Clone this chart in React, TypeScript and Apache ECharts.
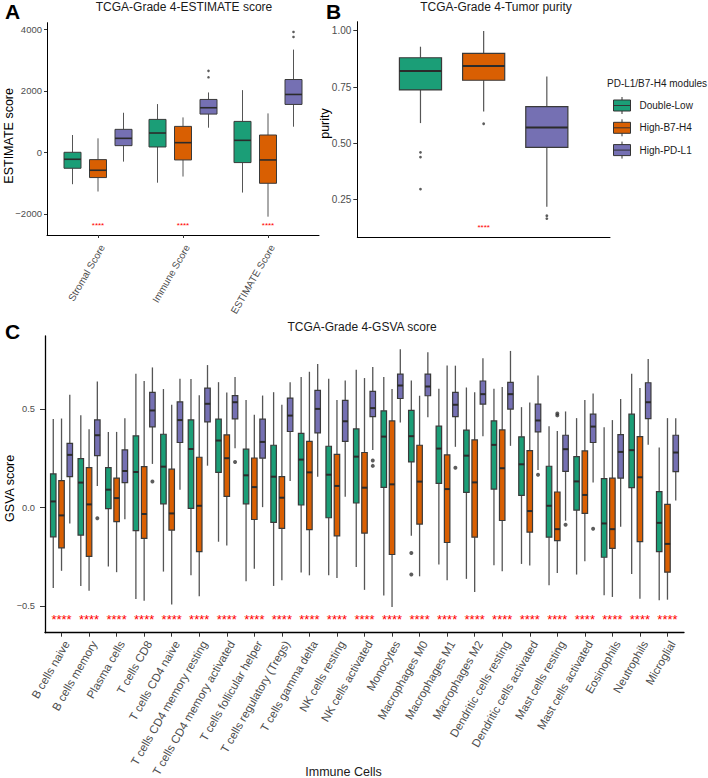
import React, { useEffect, useRef } from "react";
import * as echarts from "echarts";

const FONT = "'Liberation Sans', Arial, Helvetica, sans-serif";

// ---------- groups ----------
const groupNames = ["Double-Low", "High-B7-H4", "High-PD-L1"];
const groupColors = ["#1B9E77", "#D95F02", "#7570B3"];
const dodgeOffsets = [-0.3, 0, 0.3];

// ---------- Panel A: ESTIMATE ----------
const estimateCategories = ["Stromal Score", "Immune Score", "ESTIMATE Score"];
const estimateTicks = [-2000, 0, 2000, 4000];
// each box: [lower whisker, Q1, median, Q3, upper whisker]
const estimateDoubleLow = [
  [-1038, -519, -227, 0, 562],
  [-989, 173, 627, 1070, 1568],
  [-1310, -335, 389, 1005, 2022],
];
const estimateHighB7H4 = [
  [-1276, -822, -584, -238, 454],
  [-789, -249, 313, 843, 1135],
  [-2094, -1008, -249, 562, 1265],
];
const estimateHighPDL1 = [
  [-303, 216, 454, 746, 1286],
  [800, 1243, 1449, 1719, 1946],
  [832, 1557, 1881, 2367, 3340],
];
// [category index, group index, value]
const estimateOutliers = [
  [1, 2, 2650],
  [1, 2, 2440],
  [2, 2, 3913],
  [2, 2, 3751],
];
const estimateStarLevel = -2340;

// ---------- Panel B: Tumor purity ----------
const purityTicks = [0.25, 0.5, 0.75, 1.0];
const purityDoubleLow = [[0.59, 0.737, 0.821, 0.88, 0.929]];
const purityHighB7H4 = [[0.641, 0.78, 0.843, 0.899, 0.999]];
const purityHighPDL1 = [[0.219, 0.482, 0.57, 0.663, 0.797]];
const purityOutliers = [
  [0, 0, 0.46],
  [0, 0, 0.439],
  [0, 0, 0.297],
  [0, 1, 0.587],
  [0, 2, 0.179],
  [0, 2, 0.166],
];
const purityStarLevel = 0.133;

// ---------- Panel C: GSVA ----------
const immuneCells = [
  "B cells naive",
  "B cells memory",
  "Plasma cells",
  "T cells CD8",
  "T cells CD4 naive",
  "T cells CD4 memory resting",
  "T cells CD4 memory activated",
  "T cells follicular helper",
  "T cells regulatory (Tregs)",
  "T cells gamma delta",
  "NK cells resting",
  "NK cells activated",
  "Monocytes",
  "Macrophages M0",
  "Macrophages M1",
  "Macrophages M2",
  "Dendritic cells resting",
  "Dendritic cells activated",
  "Mast cells resting",
  "Mast cells activated",
  "Eosinophils",
  "Neutrophils",
  "Microglial",
];
const gsvaTicks = [-0.5, 0, 0.5];
const gsvaDoubleLow = [
  [-0.408, -0.148, 0.032, 0.172, 0.451],
  [-0.398, -0.139, 0.128, 0.25, 0.471],
  [-0.299, -0.005, 0.092, 0.204, 0.386],
  [-0.464, -0.117, 0.182, 0.366, 0.682],
  [-0.325, 0.02, 0.209, 0.374, 0.604],
  [-0.344, -0.003, 0.299, 0.447, 0.655],
  [-0.173, 0.18, 0.342, 0.451, 0.639],
  [-0.374, 0.02, 0.165, 0.298, 0.548],
  [-0.398, -0.075, 0.158, 0.318, 0.588],
  [-0.33, 0.014, 0.245, 0.378, 0.665],
  [-0.344, -0.051, 0.168, 0.313, 0.656],
  [-0.301, 0.024, 0.26, 0.401, 0.702],
  [-0.447, 0.104, 0.362, 0.493, 0.665],
  [-0.143, 0.233, 0.364, 0.495, 0.647],
  [-0.289, 0.124, 0.301, 0.415, 0.605],
  [-0.362, 0.078, 0.265, 0.395, 0.612],
  [-0.293, 0.095, 0.32, 0.442, 0.605],
  [-0.286, 0.063, 0.221, 0.361, 0.512],
  [-0.395, -0.15, 0.01, 0.211, 0.415],
  [-0.34, -0.012, 0.134, 0.26, 0.456],
  [-0.446, -0.252, -0.08, 0.148, 0.41],
  [-0.337, 0.102, 0.293, 0.476, 0.682],
  [-0.471, -0.223, -0.077, 0.082, 0.306],
];
const gsvaHighB7H4 = [
  [-0.321, -0.204, -0.039, 0.138, 0.454],
  [-0.423, -0.248, 0.017, 0.204, 0.4],
  [-0.328, -0.071, 0.049, 0.151, 0.386],
  [-0.474, -0.156, -0.032, 0.209, 0.645],
  [-0.493, -0.114, -0.029, 0.196, 0.524],
  [-0.451, -0.223, 0.01, 0.257, 0.573],
  [-0.192, 0.058, 0.252, 0.371, 0.587],
  [-0.31, -0.06, 0.105, 0.253, 0.473],
  [-0.369, -0.105, 0.051, 0.158, 0.524],
  [-0.344, -0.111, 0.18, 0.338, 0.692],
  [-0.357, -0.143, 0.111, 0.272, 0.548],
  [-0.418, -0.129, 0.102, 0.281, 0.66],
  [-0.505, -0.238, 0.119, 0.442, 0.604],
  [-0.349, -0.083, 0.133, 0.318, 0.57],
  [-0.369, -0.177, 0.095, 0.269, 0.724],
  [-0.429, -0.15, 0.129, 0.345, 0.588],
  [-0.323, -0.065, 0.201, 0.396, 0.614],
  [-0.294, -0.124, -0.017, 0.291, 0.536],
  [-0.332, -0.167, -0.109, 0.08, 0.391],
  [-0.272, -0.029, 0.065, 0.289, 0.548],
  [-0.454, -0.207, -0.109, 0.151, 0.446],
  [-0.463, -0.172, 0.155, 0.362, 0.609],
  [-0.468, -0.328, -0.184, 0.017, 0.456],
];
const gsvaHighPDL1 = [
  [-0.08, 0.158, 0.269, 0.328, 0.575],
  [0.111, 0.265, 0.369, 0.447, 0.643],
  [-0.058, 0.128, 0.187, 0.294, 0.456],
  [0.223, 0.412, 0.495, 0.587, 0.714],
  [0.092, 0.332, 0.446, 0.539, 0.656],
  [0.214, 0.437, 0.529, 0.609, 0.726],
  [0.303, 0.452, 0.537, 0.571, 0.665],
  [0.003, 0.252, 0.335, 0.451, 0.571],
  [0.136, 0.388, 0.469, 0.558, 0.639],
  [0.158, 0.381, 0.503, 0.597, 0.731],
  [0.056, 0.338, 0.44, 0.546, 0.648],
  [0.294, 0.464, 0.507, 0.592, 0.716],
  [0.434, 0.556, 0.622, 0.68, 0.806],
  [0.461, 0.57, 0.617, 0.68, 0.791],
  [0.31, 0.464, 0.524, 0.587, 0.723],
  [0.364, 0.527, 0.578, 0.645, 0.761],
  [0.315, 0.502, 0.578, 0.638, 0.798],
  [0.192, 0.386, 0.444, 0.527, 0.673],
  [-0.066, 0.185, 0.298, 0.369, 0.49],
  [0.128, 0.332, 0.413, 0.476, 0.582],
  [-0.097, 0.151, 0.284, 0.372, 0.553],
  [0.32, 0.454, 0.537, 0.636, 0.757],
  [0.037, 0.184, 0.281, 0.369, 0.456],
];
const gsvaOutliers = [
  [1, 2, -0.054],
  [3, 2, 0.134],
  [6, 2, 0.233],
  [11, 2, 0.24],
  [11, 2, 0.213],
  [13, 0, -0.23],
  [13, 0, -0.34],
  [14, 2, 0.204],
  [17, 2, 0.168],
  [18, 1, 0.48],
  [18, 1, 0.47],
  [18, 2, -0.087],
  [19, 2, -0.107],
];
const gsvaStarLevel = -0.555;

const SIGNIF = "****";

// ---------- helpers ----------
const minus = (s: string) => s.replace("-", "\u2212");

interface BoxStyle {
  whisker: number;
  border: number;
  median: number;
}

function boxSeries(
  name: string,
  color: string,
  offset: number,
  boxes: number[][],
  axis: number,
  st: BoxStyle
) {
  return {
    type: "custom",
    name,
    xAxisIndex: axis,
    yAxisIndex: axis,
    itemStyle: { color },
    silent: true,
    encode: { x: 0, y: [1, 2, 3, 4, 5] },
    data: boxes.map((b, i) => [i + 1 + offset, b[0], b[1], b[2], b[3], b[4]]),
    renderItem: (_params: any, api: any) => {
      const x = api.value(0);
      const pMin = api.coord([x, api.value(1)]);
      const pQ1 = api.coord([x, api.value(2)]);
      const pMed = api.coord([x, api.value(3)]);
      const pQ3 = api.coord([x, api.value(4)]);
      const pMax = api.coord([x, api.value(5)]);
      const half = Math.abs(api.size([0.1, 0])[0]);
      const cx = pMed[0];
      return {
        type: "group",
        children: [
          {
            type: "line",
            shape: { x1: cx, y1: pMax[1], x2: cx, y2: pQ3[1] },
            style: { stroke: "#555555", lineWidth: st.whisker },
          },
          {
            type: "line",
            shape: { x1: cx, y1: pQ1[1], x2: cx, y2: pMin[1] },
            style: { stroke: "#555555", lineWidth: st.whisker },
          },
          {
            type: "rect",
            shape: { x: cx - half, y: pQ3[1], width: half * 2, height: pQ1[1] - pQ3[1] },
            style: { fill: color, stroke: "#3a3a3a", lineWidth: st.border },
          },
          {
            type: "line",
            shape: { x1: cx - half, y1: pMed[1], x2: cx + half, y2: pMed[1] },
            style: { stroke: "#2b2b2b", lineWidth: st.median },
          },
        ],
      };
    },
  };
}

function outlierSeries(name: string, pts: number[][], axis: number, size: number) {
  return {
    type: "scatter",
    name,
    xAxisIndex: axis,
    yAxisIndex: axis,
    symbol: "circle",
    symbolSize: size,
    silent: true,
    itemStyle: { color: "#333333" },
    data: pts.map(([c, g, v]) => [c + 1 + dodgeOffsets[g], v]),
  };
}

function starSeries(name: string, count: number, level: number, axis: number, fontSize: number) {
  return {
    type: "custom",
    name,
    xAxisIndex: axis,
    yAxisIndex: axis,
    silent: true,
    encode: { x: 0, y: 1 },
    data: Array.from({ length: count }, (_, i) => [i + 1, level]),
    renderItem: (_params: any, api: any) => {
      const p = api.coord([api.value(0), api.value(1)]);
      return {
        type: "text",
        x: p[0],
        y: p[1] + fontSize * 0.22,
        style: {
          text: SIGNIF,
          fill: "#FF0000",
          fontSize,
          fontFamily: FONT,
          align: "center",
          verticalAlign: "middle",
        },
      };
    },
  };
}

const axisLineStyle = { show: true, onZero: false, lineStyle: { color: "#000", width: 1 } };

function buildOption() {
  const stA: BoxStyle = { whisker: 1, border: 1, median: 1.6 };
  const stB: BoxStyle = { whisker: 1.2, border: 1.2, median: 2 };
  const stC: BoxStyle = { whisker: 1.3, border: 1.2, median: 2 };

  const estimateSets = [estimateDoubleLow, estimateHighB7H4, estimateHighPDL1];
  const puritySets = [purityDoubleLow, purityHighB7H4, purityHighPDL1];
  const gsvaSets = [gsvaDoubleLow, gsvaHighB7H4, gsvaHighPDL1];

  const series: any[] = [];
  groupNames.forEach((g, gi) => {
    series.push(boxSeries(g, groupColors[gi], dodgeOffsets[gi], estimateSets[gi], 0, stA));
    series.push(boxSeries(g, groupColors[gi], dodgeOffsets[gi], puritySets[gi], 1, stB));
    series.push(boxSeries(g, groupColors[gi], dodgeOffsets[gi], gsvaSets[gi], 2, stC));
  });
  series.push(outlierSeries("outliers A", estimateOutliers, 0, 2.6));
  series.push(outlierSeries("outliers B", purityOutliers, 1, 2.8));
  series.push(outlierSeries("outliers C", gsvaOutliers, 2, 4));
  series.push(starSeries("signif A", estimateCategories.length, estimateStarLevel, 0, 8));
  series.push(starSeries("signif B", 1, purityStarLevel, 1, 8));
  series.push(starSeries("signif C", immuneCells.length, gsvaStarLevel, 2, 13));

  const catTicks = (n: number) => Array.from({ length: n }, (_, i) => i + 1);

  const titleText = (text: string, left: number, top: number, fontSize: number, extra: any = {}) => ({
    text,
    left,
    top,
    padding: 0,
    textStyle: { fontSize, fontWeight: "normal", color: "#1a1a1a", fontFamily: FONT },
    ...extra,
  });
  const panelLetter = (text: string, left: number, top: number) => ({
    text,
    left,
    top,
    padding: 0,
    textStyle: { fontSize: 21, fontWeight: "bold", color: "#000", fontFamily: FONT },
  });

  const yName = (fontSize: number, padding: number[]) => ({
    fontSize,
    color: "#000",
    fontFamily: FONT,
    padding,
  });

  return {
    animation: false,
    backgroundColor: "#ffffff",
    textStyle: { fontFamily: FONT },
    title: [
      panelLetter("A", 5, 1),
      panelLetter("B", 326, 1),
      panelLetter("C", 5, 321),
      titleText("TCGA-Grade 4-ESTIMATE score", 184, 1, 12, { textAlign: "center" }),
      titleText("TCGA-Grade 4-Tumor purity", 496, 1, 12, { textAlign: "center" }),
      titleText("TCGA-Grade 4-GSVA score", 362, 321, 12, { textAlign: "center" }),
      titleText("PD-L1/B7-H4 modules", 607, 78.5, 10),
      titleText("Immune Cells", 343.5, 765, 12.5, { textAlign: "center" }),
    ],
    legend: {
      data: groupNames.map((g, gi) => ({
        name: g,
        icon: "path://M8.5,0V3M0,3H17V14H0ZM0,8.5H17M8.5,14V17",
        itemStyle: { color: groupColors[gi], borderColor: "#333333", borderWidth: 1 },
      })),
      orient: "vertical",
      left: 613,
      top: 96.5,
      padding: 0,
      itemWidth: 17,
      itemHeight: 17,
      itemGap: 4.3,
      selectedMode: false,
      textStyle: { fontSize: 10, color: "#1a1a1a", fontFamily: FONT, padding: [0, 0, 0, 4] },
    },
    grid: [
      { left: 47, top: 22.7, width: 272, height: 212.3, outerBoundsMode: "none", containLabel: false },
      { left: 357.3, top: 21.7, width: 252.7, height: 215.6, outerBoundsMode: "none", containLabel: false },
      { left: 45, top: 336, width: 639, height: 296.7, outerBoundsMode: "none", containLabel: false },
    ],
    xAxis: [
      {
        gridIndex: 0,
        type: "value",
        min: 0.4,
        max: 3.6,
        axisLine: axisLineStyle,
        splitLine: { show: false },
        axisTick: { show: true, customValues: catTicks(3), length: 3, lineStyle: { color: "#333" } },
        axisLabel: {
          customValues: catTicks(3),
          formatter: (v: number) => estimateCategories[Math.round(v) - 1] ?? "",
          rotate: 60,
          align: "right",
          verticalAlign: "top",
          margin: 8,
          fontSize: 10,
          color: "#4d4d4d",
          fontFamily: FONT,
        },
      },
      {
        gridIndex: 1,
        type: "value",
        min: 0.4,
        max: 1.6,
        axisLine: axisLineStyle,
        splitLine: { show: false },
        axisTick: { show: false },
        axisLabel: { show: false },
      },
      {
        gridIndex: 2,
        type: "value",
        min: 0.4,
        max: 23.6,
        axisLine: { show: true, onZero: false, lineStyle: { color: "#000", width: 1.3 } },
        splitLine: { show: false },
        axisTick: { show: true, customValues: catTicks(immuneCells.length), length: 4, lineStyle: { color: "#333" } },
        axisLabel: {
          customValues: catTicks(immuneCells.length),
          formatter: (v: number) => immuneCells[Math.round(v) - 1] ?? "",
          rotate: 60,
          align: "right",
          verticalAlign: "top",
          margin: 6,
          fontSize: 11.5,
          color: "#4d4d4d",
          fontFamily: FONT,
        },
      },
    ],
    yAxis: [
      {
        gridIndex: 0,
        type: "value",
        min: -2690,
        max: 4215,
        axisLine: axisLineStyle,
        splitLine: { show: false },
        axisTick: { show: true, customValues: estimateTicks, length: 3, lineStyle: { color: "#333" } },
        axisLabel: {
          customValues: estimateTicks,
          formatter: (v: number) => minus(String(v)),
          margin: 5,
          fontSize: 9.5,
          color: "#4d4d4d",
          fontFamily: FONT,
        },
        name: "ESTIMATE score",
        nameLocation: "middle",
        nameGap: 32,
        nameMoveOverlap: false,
        nameTextStyle: yName(12.5, [0, 14, 0, 0]),
      },
      {
        gridIndex: 1,
        type: "value",
        min: 0.083,
        max: 1.04,
        axisLine: axisLineStyle,
        splitLine: { show: false },
        axisTick: { show: true, customValues: purityTicks, length: 4, lineStyle: { color: "#333" } },
        axisLabel: {
          customValues: purityTicks,
          formatter: (v: number) => v.toFixed(2),
          margin: 6,
          fontSize: 10,
          color: "#4d4d4d",
          fontFamily: FONT,
        },
        name: "purity",
        nameLocation: "middle",
        nameGap: 26,
        nameMoveOverlap: false,
        nameTextStyle: yName(12.5, [0, 0, 0, 12]),
      },
      {
        gridIndex: 2,
        type: "value",
        min: -0.636,
        max: 0.874,
        axisLine: { show: true, onZero: false, lineStyle: { color: "#000", width: 1.3 } },
        splitLine: { show: false },
        axisTick: { show: true, customValues: gsvaTicks, length: 5, lineStyle: { color: "#333" } },
        axisLabel: {
          customValues: gsvaTicks,
          formatter: (v: number) => minus(v.toFixed(1)),
          margin: 10,
          fontSize: 9.3,
          color: "#4d4d4d",
          fontFamily: FONT,
        },
        name: "GSVA score",
        nameLocation: "middle",
        nameGap: 29,
        nameMoveOverlap: false,
        nameTextStyle: yName(12.5, [0, 8, 0, 0]),
      },
    ],
    series,
  };
}

export default function App() {
  const ref = useRef<HTMLDivElement>(null);
  useEffect(() => {
    if (!ref.current) return;
    const chart = echarts.init(ref.current, undefined, { renderer: "svg" });
    chart.setOption(buildOption() as any);
    return () => {
      chart.dispose();
    };
  }, []);
  return (
    <div
      ref={ref}
      style={{ position: "absolute", left: 0, top: 0, width: 708, height: 778, background: "#ffffff" }}
    />
  );
}
